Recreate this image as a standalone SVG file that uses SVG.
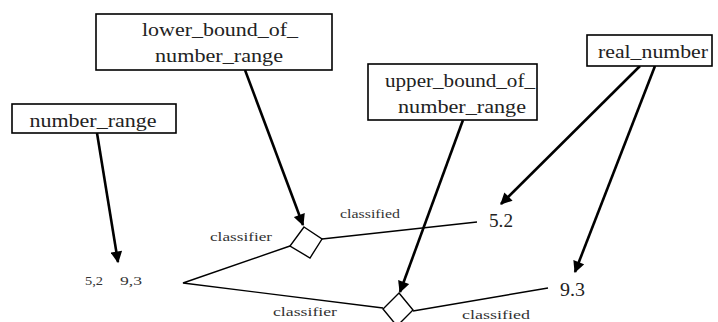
<svg xmlns="http://www.w3.org/2000/svg" width="718" height="322" viewBox="0 0 718 322">
<style>
.box{fill:#fff;stroke:#000;stroke-width:1.6}
.bt{font-size:19px;fill:#222;text-anchor:middle}
.lbl{font-size:13px;fill:#333}
.val{font-size:18px;fill:#222}
.arr{stroke:#000;stroke-width:2.6;fill:none;marker-end:url(#ah)}
.ln{stroke:#000;stroke-width:1.4;fill:none}
.dia{fill:#fff;stroke:#000;stroke-width:1.4}
</style>
<defs>
<marker id="ah" viewBox="0 0 10 10" refX="9" refY="5" markerWidth="5" markerHeight="4.5" orient="auto" markerUnits="strokeWidth">
<path d="M0,0 L10,5 L0,10 z" fill="#000"/>
</marker>
</defs>
<rect width="718" height="322" fill="#fff"/>
<g id="connectors">
<line class="arr" x1="97" y1="133" x2="118" y2="262"/>
<line class="arr" x1="245" y1="70" x2="303" y2="225"/>
<line class="arr" x1="463" y1="120" x2="400" y2="292"/>
<line class="arr" x1="640" y1="66" x2="501" y2="204"/>
<line class="arr" x1="655" y1="66" x2="575" y2="272"/>
<polyline class="ln" points="290,246 183,283 383,308"/>
<line class="ln" x1="322" y1="239" x2="477" y2="222"/>
<line class="ln" x1="413" y1="311" x2="548" y2="288"/>
</g>
<g font-family="Liberation Serif, Times New Roman, serif">
<g id="lower_bound_of_number_range">
<rect class="box" x="96" y="14" width="236" height="56"/>
<text class="bt" x="220" y="36" textLength="156" lengthAdjust="spacingAndGlyphs">lower_bound_of_</text>
<text class="bt" x="219" y="62" textLength="128" lengthAdjust="spacingAndGlyphs">number_range</text>
</g>
<g id="upper_bound_of_number_range">
<rect class="box" x="368" y="64" width="169" height="56"/>
<text class="bt" x="460" y="87" textLength="150" lengthAdjust="spacingAndGlyphs">upper_bound_of_</text>
<text class="bt" x="462" y="113" textLength="128" lengthAdjust="spacingAndGlyphs">number_range</text>
</g>
<g id="real_number">
<rect class="box" x="587" y="35" width="125" height="31"/>
<text class="bt" x="653" y="58" textLength="110" lengthAdjust="spacingAndGlyphs">real_number</text>
</g>
<g id="number_range">
<rect class="box" x="12" y="104" width="164" height="29"/>
<text class="bt" x="93" y="127" textLength="127" lengthAdjust="spacingAndGlyphs">number_range</text>
</g>
<g id="diamond1">
<polygon class="dia" points="304,227 322,239 310,258 290,246"/>
</g>
<g id="diamond2">
<polygon class="dia" points="399,293 413,310 397,326 383,309"/>
</g>
<g id="labels">
<text class="lbl" x="210" y="241" textLength="62" lengthAdjust="spacingAndGlyphs">classifier</text>
<text class="lbl" x="340" y="218" font-size="12" textLength="60" lengthAdjust="spacingAndGlyphs">classified</text>
<text class="lbl" x="273" y="316" textLength="64" lengthAdjust="spacingAndGlyphs">classifier</text>
<text class="lbl" x="462" y="319" textLength="68" lengthAdjust="spacingAndGlyphs">classified</text>
<text class="val" x="489" y="227" textLength="24" lengthAdjust="spacingAndGlyphs">5.2</text>
<text class="val" x="560" y="296" textLength="25" lengthAdjust="spacingAndGlyphs">9.3</text>
<text class="lbl" x="85" y="285" font-size="14" textLength="18" lengthAdjust="spacingAndGlyphs">5,2</text>
<text class="lbl" x="120" y="285" font-size="14" textLength="22" lengthAdjust="spacingAndGlyphs">9,3</text>
</g>
</g>
</svg>
